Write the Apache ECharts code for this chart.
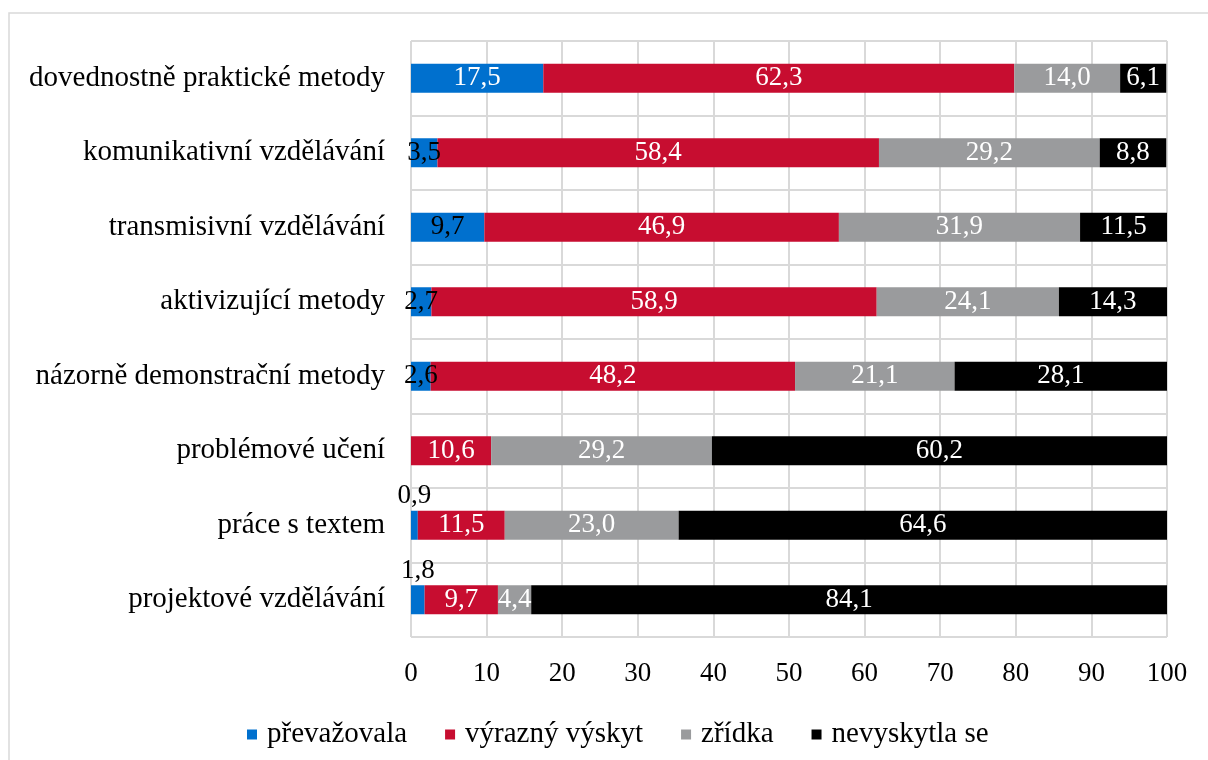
<!DOCTYPE html>
<html>
<head>
<meta charset="utf-8">
<script src="https://cdn.jsdelivr.net/npm/echarts@6/dist/echarts.min.js"></script>
<style>
  html, body { margin: 0; padding: 0; background: #fff; }
  #chart { width: 1208px; height: 760px; }
</style>
</head>
<body>
<div id="chart"></div>
<script>
const categories = [
  "dovednostně praktické metody",
  "komunikativní vzdělávání",
  "transmisivní vzdělávání",
  "aktivizující metody",
  "názorně demonstrační metody",
  "problémové učení",
  "práce s textem",
  "projektové vzdělávání"
];
const seriesNames = ["převažovala", "výrazný výskyt", "zřídka", "nevyskytla se"];
const prevazovala = [17.5, 3.5, 9.7, 2.7, 2.6, 0, 0.9, 1.8];
const vyraznyVyskyt = [62.3, 58.4, 46.9, 58.9, 48.2, 10.6, 11.5, 9.7];
const zridka = [14.0, 29.2, 31.9, 24.1, 21.1, 29.2, 23.0, 4.4];
const nevyskytlaSe = [6.1, 8.8, 11.5, 14.3, 28.1, 60.2, 64.6, 84.1];
const xTicks = [0, 10, 20, 30, 40, 50, 60, 70, 80, 90, 100];

const colors = ["#0070ce", "#c70d30", "#9a9b9d", "#000000"];
const font = "Liberation Serif";

function fmt(v) {
  return v.toFixed(1).replace(".", ",");
}

// blue segment: small ones get a dark label, tiny ones sit above the bar
function blueData() {
  return prevazovala.map(function (v, i) {
    const item = { value: v };
    if (v === 0) {
      item.label = { show: false };
    } else if (v < 2) {
      item.label = { position: "top", color: "#000", distance: 1 };
    } else if (v < 15) {
      item.label = { color: "#000" };
    }
    return item;
  });
}

const allValues = [blueData(), vyraznyVyskyt, zridka, nevyskytlaSe];

const myChart = echarts.init(document.getElementById("chart"));
myChart.setOption({
  animation: false,
  textStyle: { fontFamily: font },
  graphic: [
    {
      type: "rect",
      shape: { x: 9, y: 13, width: 1400, height: 900 },
      style: { fill: "none", stroke: "#d9d9d9", lineWidth: 1.5 },
      silent: true
    }
  ],
  legend: {
    data: seriesNames,
    left: 242,
    top: 715,
    itemWidth: 10,
    itemHeight: 10,
    itemGap: 38,
    icon: "rect",
    textStyle: { fontFamily: font, fontSize: 29, color: "#000", padding: [0, 0, 0, 5] }
  },
  grid: {
    left: 411,
    right: 41,
    top: 41,
    bottom: 123,
    containLabel: false
  },
  xAxis: {
    type: "value",
    min: 0,
    max: 100,
    interval: 10,
    axisLine: { show: false },
    axisTick: { show: false },
    splitLine: { lineStyle: { color: "#d9d9d9", width: 2 } },
    axisLabel: {
      fontFamily: font,
      fontSize: 27,
      color: "#000",
      margin: 23,
      formatter: function (v) {
        return xTicks.indexOf(v) >= 0 ? String(v) : "";
      }
    }
  },
  yAxis: {
    type: "category",
    data: categories,
    inverse: true,
    axisLine: { show: false },
    axisTick: { show: false },
    splitLine: { show: true, lineStyle: { color: "#d9d9d9", width: 2 } },
    axisLabel: {
      fontFamily: font,
      fontSize: 29,
      color: "#000",
      margin: 26
    }
  },
  series: seriesNames.map(function (name, k) {
    return {
      name: name,
      type: "bar",
      stack: "one",
      barWidth: 29,
      itemStyle: { color: colors[k] },
      label: {
        show: true,
        position: "inside",
        fontFamily: font,
        fontSize: 27,
        color: "#fff",
        formatter: function (p) {
          return fmt(p.value);
        }
      },
      data: allValues[k]
    };
  })
});
</script>
</body>
</html>
